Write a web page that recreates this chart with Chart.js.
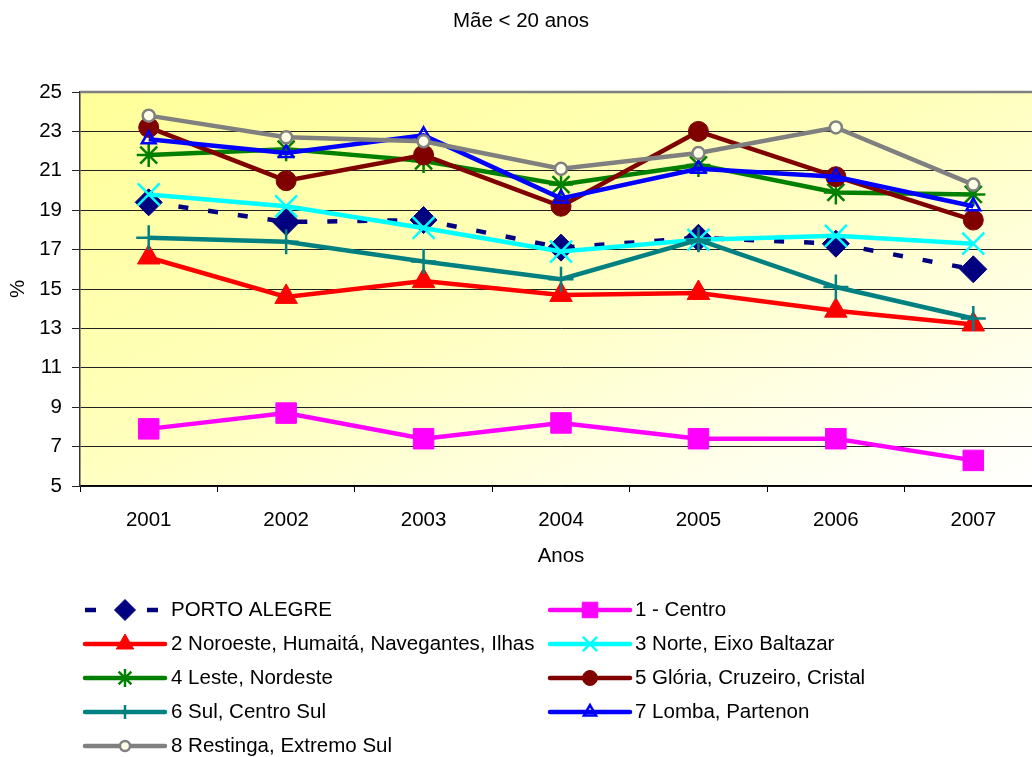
<!DOCTYPE html>
<html>
<head>
<meta charset="utf-8">
<script src="https://cdn.jsdelivr.net/npm/chart.js@4/dist/chart.umd.min.js"></script>
<style>
  html, body { margin: 0; padding: 0; background: #fff; overflow: hidden; }
  #wrap { width: 1060px; height: 757px; }
</style>
</head>
<body>
<div id="wrap"><canvas id="c" width="1060" height="757"></canvas></div>
<script>
const categories = ['2001', '2002', '2003', '2004', '2005', '2006', '2007'];
const portoAlegre = [19.4, 18.4, 18.5, 17.1, 17.6, 17.3, 16.0];
const centro      = [7.9, 8.7, 7.4, 8.2, 7.4, 7.4, 6.3];
const noroeste    = [16.6, 14.6, 15.4, 14.7, 14.8, 13.9, 13.2];
const norte       = [19.8, 19.2, 18.1, 16.9, 17.5, 17.7, 17.3];
const leste       = [21.8, 22.1, 21.5, 20.3, 21.3, 19.9, 19.8];
const gloria      = [23.2, 20.5, 21.8, 19.2, 23.0, 20.7, 18.5];
const sul         = [17.6, 17.4, 16.4, 15.5, 17.5, 15.1, 13.5];
const lomba       = [22.6, 21.9, 22.8, 19.6, 21.1, 20.7, 19.2];
const restinga    = [23.8, 22.7, 22.5, 21.1, 21.9, 23.2, 20.3];
const yTicks = { min: 5, max: 25, step: 2 };
const chartTitle = 'Mãe < 20 anos';
const xTitle = 'Anos';
const yTitle = '%';

const FONT = '"Liberation Sans", Arial, sans-serif';
const FS = 20.5;

function ds(label, data, color, style, radius, opts) {
  return Object.assign({
    label, data,
    borderColor: color,
    backgroundColor: color,
    borderWidth: 4.5,
    pointStyle: style,
    pointRadius: radius,
    pointHoverRadius: radius,
    pointBorderColor: color,
    pointBackgroundColor: color,
    pointBorderWidth: 1,
    tension: 0,
    fill: false
  }, opts || {});
}

const datasets = [
  ds('PORTO ALEGRE', portoAlegre, '#000080', 'rectRot', 13.5, { borderDash: [10, 20], legendR: 10.5, legendDash: true }),
  ds('1 - Centro', centro, '#FF00FF', 'rect', 14.5, { legendR: 11 }),
  ds('2 Noroeste, Humaitá, Navegantes, Ilhas', noroeste, '#FF0000', 'triangle', 13, { legendR: 10 }),
  ds('3 Norte, Eixo Baltazar', norte, '#00FFFF', 'crossRot', 15.5, { pointBorderWidth: 2.5, legendR: 10 }),
  ds('4 Leste, Nordeste', leste, '#008000', 'star', 12, { pointBorderWidth: 2.5, legendR: 9 }),
  ds('5 Glória, Cruzeiro, Cristal', gloria, '#800000', 'circle', 10, { legendR: 7.5 }),
  ds('6 Sul, Centro Sul', sul, '#008080', 'cross', 12.5, { pointBorderWidth: 2.5, legendR: 7 }),
  ds('7 Lomba, Partenon', lomba, '#0000FF', 'triangle', 8, { pointBackgroundColor: 'rgba(0,0,0,0)', pointBorderWidth: 2.5, legendR: 7 }),
  ds('8 Restinga, Extremo Sul', restinga, '#808080', 'circle', 6, { pointBackgroundColor: '#FFFFE8', pointBorderWidth: 2.5, legendR: 5 })
];
// later series drawn on top (as in the original)
datasets.forEach((d, i) => { d.order = datasets.length - i; });

const decorPlugin = {
  id: 'decor',
  beforeDraw(chart) {
    const { ctx, chartArea: a } = chart;
    const W = a.right - a.left, H = a.bottom - a.top;
    const k = 2 * W * H / (W * W + H * H);
    ctx.save();
    const g = ctx.createLinearGradient(a.left, a.top, a.left + H * k, a.top + W * k);
    g.addColorStop(0, '#FFFF99');
    g.addColorStop(0.45, '#FFFFBB');
    g.addColorStop(0.75, '#FFFFE4');
    g.addColorStop(1, '#FFFFFF');
    ctx.fillStyle = g;
    ctx.fillRect(a.left, a.top, W, H);
    ctx.restore();
  },
  beforeDatasetsDraw(chart) {
    const { ctx, chartArea: a } = chart;
    ctx.save();
    ctx.strokeStyle = '#808080';
    ctx.lineWidth = 2.5;
    ctx.beginPath();
    ctx.moveTo(a.left, a.top);
    ctx.lineTo(a.right, a.top);
    ctx.stroke();
    ctx.restore();
  },
  afterDraw(chart) {
    const ctx = chart.ctx;
    ctx.save();
    ctx.fillStyle = '#000';
    ctx.font = FS + 'px ' + FONT;
    ctx.textAlign = 'center';
    ctx.textBaseline = 'middle';
    ctx.fillText(chartTitle, 521, 21);

    const cols = [{ x0: 85, x1: 165, tx: 171 }, { x0: 550, x1: 630, tx: 635 }];
    const rowY = [610, 644, 678, 712, 746];
    chart.data.datasets.forEach((d, i) => {
      const col = cols[i % 2];
      const y = rowY[Math.floor(i / 2)];
      ctx.save();
      ctx.strokeStyle = d.borderColor;
      ctx.lineWidth = 4.5;
      ctx.lineCap = d.legendDash ? 'butt' : 'round';
      ctx.setLineDash(d.legendDash ? [11, 20] : []);
      ctx.beginPath();
      ctx.moveTo(col.x0, y);
      ctx.lineTo(col.x1, y);
      ctx.stroke();
      ctx.setLineDash([]);
      ctx.lineCap = 'butt';
      ctx.fillStyle = d.pointBackgroundColor;
      ctx.strokeStyle = d.pointBorderColor;
      ctx.lineWidth = d.pointBorderWidth;
      Chart.helpers.drawPoint(ctx, {
        pointStyle: d.pointStyle,
        radius: d.legendR,
        rotation: 0,
        borderWidth: d.pointBorderWidth
      }, (col.x0 + col.x1) / 2, y);
      ctx.fillStyle = '#000';
      ctx.font = FS + 'px ' + FONT;
      ctx.textAlign = 'left';
      ctx.textBaseline = 'middle';
      ctx.fillText(d.label, col.tx, y);
      ctx.restore();
    });
    ctx.restore();
  }
};

new Chart(document.getElementById('c'), {
  type: 'line',
  data: { labels: categories, datasets },
  plugins: [decorPlugin],
  options: {
    responsive: false,
    animation: false,
    events: [],
    layout: { padding: { top: 92, left: 0, right: 0, bottom: 181 } },
    plugins: { legend: { display: false }, title: { display: false }, tooltip: { enabled: false } },
    scales: {
      x: {
        type: 'category',
        offset: true,
        grid: { display: true, offset: true, drawOnChartArea: false, drawTicks: true, tickLength: 6, color: '#000', lineWidth: 1 },
        border: { display: true, color: '#000', width: 1.5 },
        ticks: { color: '#000', font: { family: FONT, size: FS }, padding: 16, maxRotation: 0 },
        title: { display: true, text: xTitle, color: '#000', font: { family: FONT, size: FS }, padding: { top: 0, bottom: 7 } },
        afterFit(s) { s.height = 90; }
      },
      y: {
        min: yTicks.min, max: yTicks.max,
        ticks: { stepSize: yTicks.step, color: '#000', font: { family: FONT, size: FS }, padding: 10 },
        grid: { color: '#222', lineWidth: 1, tickLength: 8, drawTicks: true },
        border: { display: true, color: '#333', width: 1.5 },
        title: { display: true, text: yTitle, color: '#000', font: { family: FONT, size: FS }, padding: { top: 6, bottom: 0 } },
        afterFit(s) { s.width = 80; }
      }
    }
  }
});
</script>
</body>
</html>
